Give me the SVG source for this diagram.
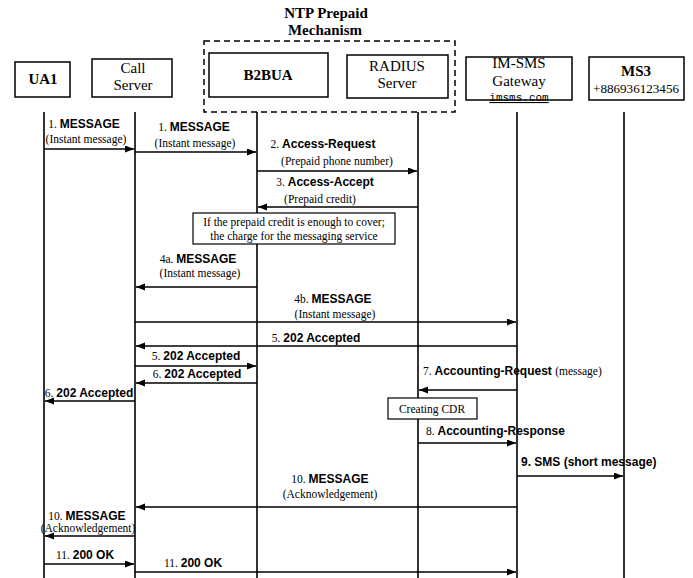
<svg xmlns="http://www.w3.org/2000/svg" width="693" height="578" viewBox="0 0 693 578">
<defs>
<marker id="ah" markerUnits="userSpaceOnUse" markerWidth="10" markerHeight="8" refX="9" refY="3.5" orient="auto">
<path d="M0,0 L9,3.5 L0,7 z" fill="#000"/>
</marker>
<style>
.box{fill:#fff;stroke:#000;stroke-width:1.5}
.life{stroke:#000;stroke-width:1.6;fill:none}
.msg{stroke:#000;stroke-width:1.4;fill:none;marker-end:url(#ah)}
.nt{font-family:"Liberation Serif","Times New Roman",serif;font-size:15px;fill:#000;text-anchor:middle}
.b{font-weight:bold}
.lb{font-family:"Liberation Sans",Arial,sans-serif;font-size:12px;font-weight:bold;fill:#000}
.sr{font-family:"Liberation Serif","Times New Roman",serif;font-size:11.5px;font-weight:normal;fill:#000}
.m{text-anchor:middle}
</style>
</defs>
<rect width="693" height="578" fill="#fff"/>
<g id="title">
<text class="nt b" x="326" y="18">NTP Prepaid</text>
<text class="nt b" x="325" y="35">Mechanism</text>
<rect x="204" y="41" width="251" height="71" fill="none" stroke="#000" stroke-width="1.5" stroke-dasharray="6,4"/>
</g>
<g id="lifelines">
<line class="life" x1="44" y1="112" x2="44" y2="578"/>
<line class="life" x1="135" y1="112" x2="135" y2="578"/>
<line class="life" x1="257" y1="112" x2="257" y2="578"/>
<line class="life" x1="418" y1="112" x2="418" y2="578"/>
<line class="life" x1="517" y1="112" x2="517" y2="578"/>
<line class="life" x1="624" y1="112" x2="624" y2="578"/>
</g>
<g id="ua1"><rect class="box" x="15" y="62" width="55" height="35"/><text class="nt b" x="43" y="84">UA1</text></g>
<g id="callserver"><rect class="box" x="92" y="59" width="80" height="38"/><text class="nt" x="133" y="73">Call</text><text class="nt" x="133" y="90">Server</text></g>
<g id="b2bua"><rect class="box" x="209" y="53" width="119" height="44"/><text class="nt b" x="268" y="80">B2BUA</text></g>
<g id="radius"><rect class="box" x="347" y="55" width="101" height="43"/><text class="nt" x="397" y="71">RADIUS</text><text class="nt" x="397" y="88">Server</text></g>
<g id="imsms"><rect class="box" x="466" y="57" width="106" height="43"/><text class="nt" x="519" y="68">IM-SMS</text><text class="nt" x="519" y="86">Gateway</text><text x="519" y="101" font-family="Liberation Mono,monospace" font-size="11" text-anchor="middle" text-decoration="underline">imsms.com</text></g>
<g id="ms3"><rect class="box" x="589" y="57" width="95" height="43"/><text class="nt b" x="636" y="76">MS3</text><text class="nt" x="636" y="93" style="font-size:13px" textLength="86" lengthAdjust="spacingAndGlyphs">+886936123456</text></g>
<g id="note1"><rect class="box" x="193" y="213" width="202" height="31" style="stroke-width:1.2"/><text class="sr m" x="294" y="226">If the prepaid credit is enough to cover;</text><text class="sr m" x="294" y="240">the charge for the messaging service</text></g>
<g id="note2"><rect class="box" x="388" y="398" width="89" height="21" style="stroke-width:1.2"/><text class="sr m" x="432" y="413">Creating CDR</text></g>
<g id="connectors">
<line class="msg" x1="44" y1="149" x2="134" y2="149"/>
<line class="msg" x1="135" y1="152" x2="256" y2="152"/>
<line class="msg" x1="257" y1="171" x2="417" y2="171"/>
<line class="msg" x1="418" y1="207" x2="258" y2="207"/>
<line class="msg" x1="257" y1="287" x2="136" y2="287"/>
<line class="msg" x1="135" y1="322" x2="516" y2="322"/>
<line class="msg" x1="517" y1="346" x2="136" y2="346"/>
<line class="msg" x1="135" y1="366" x2="256" y2="366"/>
<line class="msg" x1="257" y1="383" x2="136" y2="383"/>
<line class="msg" x1="135" y1="401" x2="45" y2="401"/>
<line class="msg" x1="517" y1="390" x2="419" y2="390"/>
<line class="msg" x1="418" y1="443" x2="516" y2="443"/>
<line class="msg" x1="517" y1="476" x2="623" y2="476"/>
<line class="msg" x1="517" y1="507" x2="136" y2="507"/>
<line class="msg" x1="135" y1="536" x2="45" y2="536"/>
<line class="msg" x1="44" y1="564" x2="134" y2="564"/>
<line class="msg" x1="135" y1="572" x2="516" y2="572"/>
</g>
<g id="labels">
<text class="lb m" x="84" y="128"><tspan class="sr">1. </tspan>MESSAGE</text>
<text class="sr m" x="86" y="143">(Instant message)</text>
<text class="lb m" x="194" y="131"><tspan class="sr">1. </tspan>MESSAGE</text>
<text class="sr m" x="195" y="147">(Instant message)</text>
<text class="lb m" x="323" y="148"><tspan class="sr">2. </tspan>Access-Request</text>
<text class="sr m" x="337" y="165">(Prepaid phone number)</text>
<text class="lb m" x="325" y="186"><tspan class="sr">3. </tspan>Access-Accept</text>
<text class="sr m" x="320" y="203">(Prepaid credit)</text>
<text class="lb m" x="198" y="263"><tspan class="sr">4a. </tspan>MESSAGE</text>
<text class="sr m" x="200" y="277">(Instant message)</text>
<text class="lb m" x="333" y="303"><tspan class="sr">4b. </tspan>MESSAGE</text>
<text class="sr m" x="335" y="318">(Instant message)</text>
<text class="lb m" x="316" y="342"><tspan class="sr">5. </tspan>202 Accepted</text>
<text class="lb m" x="196" y="360"><tspan class="sr">5. </tspan>202 Accepted</text>
<text class="lb m" x="197" y="378"><tspan class="sr">6. </tspan>202 Accepted</text>
<text class="lb m" x="89" y="397"><tspan class="sr">6. </tspan>202 Accepted</text>
<text class="lb" x="423" y="375"><tspan class="sr">7. </tspan>Accounting-Request <tspan class="sr">(message)</tspan></text>
<text class="lb" x="426" y="435"><tspan class="sr">8. </tspan>Accounting-Response</text>
<text class="lb" x="521" y="466">9. SMS (short message)</text>
<text class="lb m" x="330" y="483"><tspan class="sr">10. </tspan>MESSAGE</text>
<text class="sr m" x="330" y="498">(Acknowledgement)</text>
<text class="lb m" x="87" y="520"><tspan class="sr">10. </tspan>MESSAGE</text>
<text class="sr m" x="88" y="532">(Acknowledgement)</text>
<text class="lb m" x="85" y="559"><tspan class="sr">11. </tspan>200 OK</text>
<text class="lb m" x="193" y="567"><tspan class="sr">11. </tspan>200 OK</text>
</g>
</svg>
